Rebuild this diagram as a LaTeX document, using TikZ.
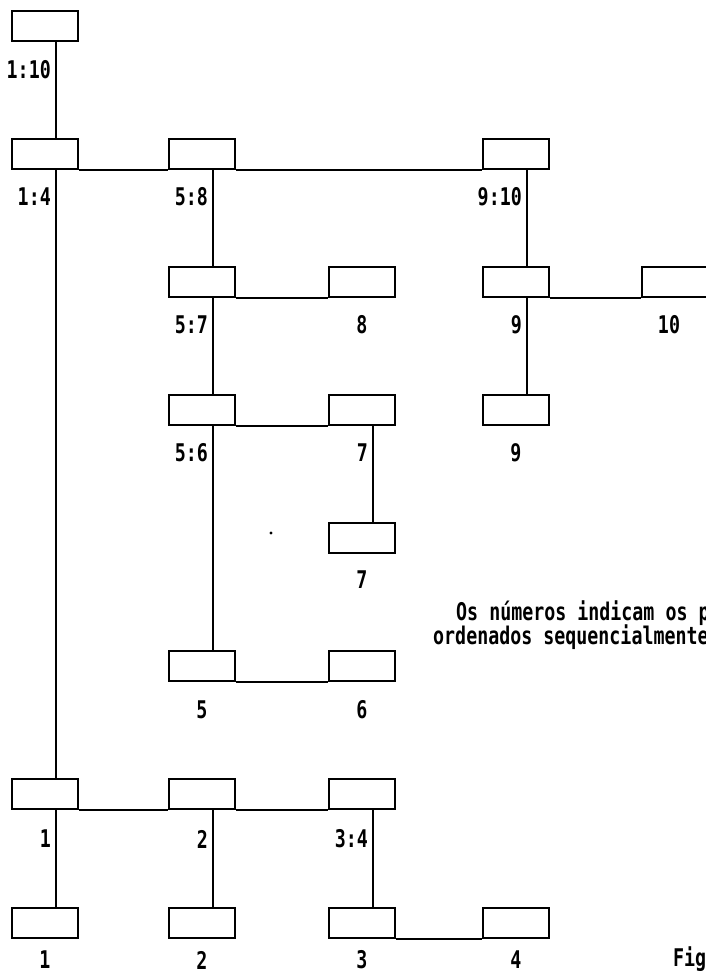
\documentclass[tikz,border=0pt]{standalone}
\usepackage{fontspec}
\usepackage{graphicx}
\newfontfamily\dotfont{DejaVu Sans Mono}
\newcommand{\tallt}[1]{\scalebox{1}[1.33]{#1}}
\begin{document}
\begin{tikzpicture}[x=1pt,y=-1pt,
  box/.style={draw, line width=2pt, minimum width=66pt, minimum height=30pt, inner sep=0pt},
  conn/.style={line width=2pt},
  lbl/.style={font=\dotfont\bfseries\fontsize{18.3}{20}\selectfont, inner sep=0pt},
  clbl/.style={lbl, anchor=east}]
\useasboundingbox (0,0) rectangle (706,974);
% boxes
\node[box] (b0A) at (45,26) {};
\node[box] (b1A) at (45,154) {};
\node[box] (b1B) at (202,154) {};
\node[box] (b1D) at (516,154) {};
\node[box] (b2B) at (202,282) {};
\node[box] (b2C) at (362,282) {};
\node[box] (b2D) at (516,282) {};
\node[box] (b2E) at (675,282) {};
\node[box] (b3B) at (202,410) {};
\node[box] (b3C) at (362,410) {};
\node[box] (b3D) at (516,410) {};
\node[box] (b4C) at (362,538) {};
\node[box] (b5B) at (202,666) {};
\node[box] (b5C) at (362,666) {};
\node[box] (b6A) at (45,794) {};
\node[box] (b6B) at (202,794) {};
\node[box] (b6C) at (362,794) {};
\node[box] (b7A) at (45,923) {};
\node[box] (b7B) at (202,923) {};
\node[box] (b7C) at (362,923) {};
\node[box] (b7D) at (516,923) {};
% vertical connectors
\foreach \a/\b in {b0A/b1A, b1A/b6A, b1B/b2B, b1D/b2D, b2B/b3B, b2D/b3D, b3B/b5B, b3C/b4C, b6A/b7A, b6B/b7B, b6C/b7C}
  \draw[conn] ([xshift=11pt]\a.south) -- ([xshift=11pt]\b.north);
% horizontal connectors
\foreach \a/\b in {b1A/b1B, b1B/b1D, b2B/b2C, b2D/b2E, b3B/b3C, b5B/b5C, b6A/b6B, b6B/b6C, b7C/b7D}
  \draw[conn] (\a.south east) -- (\b.south west);
% connector labels
\node[clbl] (l0A) at ([xshift=6pt,yshift=-28pt]b0A.south) {\tallt{1:10}};
\node[clbl] (l1A) at ([xshift=6pt,yshift=-27pt]b1A.south) {\tallt{1:4}};
\node[clbl] (l1B) at ([xshift=6pt,yshift=-27pt]b1B.south) {\tallt{5:8}};
\node[clbl] (l1D) at ([xshift=6pt,yshift=-27pt]b1D.south) {\tallt{9:10}};
\node[clbl] (l2B) at ([xshift=6pt,yshift=-27pt]b2B.south) {\tallt{5:7}};
\node[clbl] (l2D) at ([xshift=6pt,yshift=-27pt]b2D.south) {\tallt{9}};
\node[clbl] (l3B) at ([xshift=6pt,yshift=-27pt]b3B.south) {\tallt{5:6}};
\node[clbl] (l3C) at ([xshift=6pt,yshift=-27pt]b3C.south) {\tallt{7}};
\node[clbl] (l6A) at ([xshift=6pt,yshift=-29pt]b6A.south) {\tallt{1}};
\node[clbl] (l6B) at ([xshift=6pt,yshift=-29pt]b6B.south) {\tallt{2}};
\node[clbl] (l6C) at ([xshift=6pt,yshift=-29pt]b6C.south) {\tallt{3:4}};
% leaf labels
\node[lbl] (n8) at ([yshift=-27pt]b2C.south) {\tallt{8}};
\node[lbl] (n10) at ([xshift=-6pt,yshift=-27pt]b2E.south) {\tallt{10}};
\node[lbl] (n9) at ([yshift=-27pt]b3D.south) {\tallt{9}};
\node[lbl] (n7) at ([yshift=-26pt]b4C.south) {\tallt{7}};
\node[lbl] (n5) at ([yshift=-28pt]b5B.south) {\tallt{5}};
\node[lbl] (n6) at ([yshift=-28pt]b5C.south) {\tallt{6}};
\node[lbl] (n1) at ([yshift=-21pt]b7A.south) {\tallt{1}};
\node[lbl] (n2) at ([yshift=-21pt]b7B.south) {\tallt{2}};
\node[lbl] (n3) at ([yshift=-21pt]b7C.south) {\tallt{3}};
\node[lbl] (n4) at ([yshift=-21pt]b7D.south) {\tallt{4}};
% texts
\node[lbl, anchor=base west] (t1) at (456,620) {\tallt{Os números indicam os p}};
\node[lbl, anchor=base west] (t2) at (433,644) {\tallt{ordenados sequencialmente}};
\node[lbl, anchor=base west] (fig) at (673,966) {\tallt{Fig}};
% speck
\fill (271,533) circle (1.6pt);
\end{tikzpicture}
\end{document}
